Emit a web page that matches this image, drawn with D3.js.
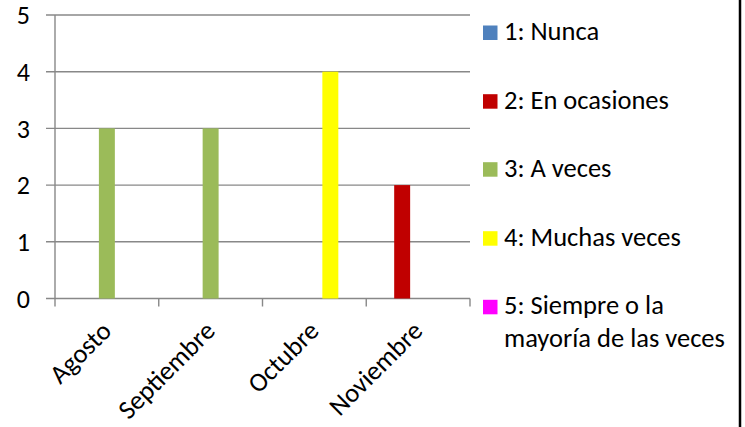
<!DOCTYPE html>
<html><head><meta charset="utf-8">
<script src="https://cdn.jsdelivr.net/npm/d3@7/dist/d3.min.js"></script>
<style>
html,body{margin:0;padding:0;background:#fff;}
svg{display:block;}
text{font-family:Carlito, Calibri, Lato, sans-serif;fill:#000;}
</style></head>
<body>
<svg id="chart" width="745" height="427"></svg>
<script>
const categories = ["Agosto", "Septiembre", "Octubre", "Noviembre"];
const seriesNames = ["1: Nunca", "2: En ocasiones", "3: A veces", "4: Muchas veces", "5: Siempre o la mayoría de las veces"];
const legendLines = [["1: Nunca"], ["2: En ocasiones"], ["3: A veces"], ["4: Muchas veces"], ["5: Siempre o la", "mayoría de las veces"]];
const s1Nunca = [0, 0, 0, 0];
const s2EnOcasiones = [0, 0, 0, 2];
const s3AVeces = [3, 3, 0, 0];
const s4MuchasVeces = [0, 0, 4, 0];
const s5Siempre = [0, 0, 0, 0];
const seriesValues = [s1Nunca, s2EnOcasiones, s3AVeces, s4MuchasVeces, s5Siempre];
const colors = ["#4F81BD", "#C00000", "#9BBB59", "#FFFF00", "#FF00FF"];
const yTicks = [0, 1, 2, 3, 4, 5];

const svg = d3.select("#chart");
const mLeft = 55, mRight = 470, mTop = 15, mBottom = 298.5;

const x0 = d3.scaleBand().domain(categories).range([mLeft, mRight]).paddingInner(0).paddingOuter(0);
const x1 = d3.scaleBand().domain(d3.range(seriesNames.length)).range([0, x0.bandwidth()]).paddingInner(0).paddingOuter(0.75);
const y = d3.scaleLinear().domain([0, 5]).range([mBottom, mTop]);

const gridColor = "#888888";

svg.append("g").selectAll("line").data(yTicks).join("line")
  .attr("x1", mLeft - 9).attr("x2", mRight)
  .attr("y1", d => y(d)).attr("y2", d => y(d))
  .attr("stroke", gridColor).attr("stroke-width", 1.4);

svg.append("line").attr("x1", mLeft).attr("x2", mLeft).attr("y1", mTop).attr("y2", mBottom)
  .attr("stroke", gridColor).attr("stroke-width", 1.4);

svg.append("g").selectAll("text").data(yTicks).join("text")
  .attr("x", 30).attr("y", d => y(d)).attr("dy", "0.36em")
  .attr("text-anchor", "end").style("font-size", "26px").text(d => d);

const xTickPos = categories.map(c => x0(c)).concat([mRight]);
svg.append("g").selectAll("line").data(xTickPos).join("line")
  .attr("x1", d => d).attr("x2", d => d).attr("y1", mBottom).attr("y2", mBottom + 8)
  .attr("stroke", gridColor).attr("stroke-width", 1.4);

const gCat = svg.append("g").selectAll("g").data(categories).join("g")
  .attr("transform", c => `translate(${x0(c)},0)`);
gCat.selectAll("rect").data((c, ci) => seriesValues.map((vals, si) => ({si, v: vals[ci]})).filter(d => d.v > 0))
  .join("rect")
  .attr("x", d => x1(d.si)).attr("width", x1.bandwidth())
  .attr("y", d => y(d.v)).attr("height", d => y(0) - y(d.v))
  .attr("fill", d => colors[d.si]);

svg.append("g").selectAll("text").data(categories).join("text")
  .attr("transform", c => `translate(${x0(c) + x0.bandwidth() / 2 + 6},${mBottom + 34}) rotate(-45)`)
  .attr("text-anchor", "end").style("font-size", "26.5px").text(c => c);

const legY = [40, 108.7, 176.7, 245.7, 314.3];
const leg = svg.append("g").selectAll("g").data(seriesNames).join("g")
  .attr("transform", (d, i) => `translate(483,${legY[i]})`);
leg.append("rect").attr("x", 0).attr("y", -14.5).attr("width", 14.5).attr("height", 14.5)
  .attr("fill", (d, i) => colors[i]);
leg.append("text").attr("x", 21).attr("y", 0).style("font-size", "26.5px")
  .selectAll("tspan").data((d, i) => legendLines[i]).join("tspan")
  .attr("x", 21).attr("dy", (d, j) => j === 0 ? 0 : 32.5).text(d => d);

svg.append("line").attr("x1", 740).attr("x2", 740).attr("y1", 0).attr("y2", 427)
  .attr("stroke", "#000").attr("stroke-width", 2.5);
</script>
</body></html>
